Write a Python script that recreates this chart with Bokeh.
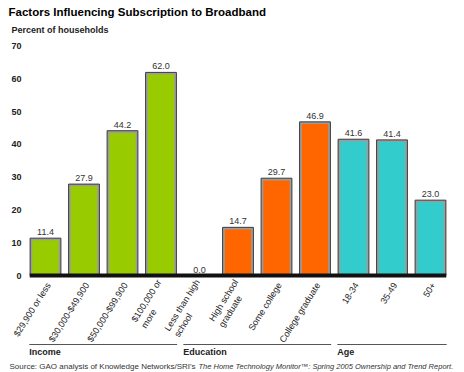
import math
from bokeh.plotting import figure
from bokeh.models import Range1d, FixedTicker, Label, LabelSet, ColumnDataSource
from bokeh.core.properties import value
from bokeh.embed import file_html
from bokeh.resources import INLINE

# ---------------- data ----------------
categories = ["$29,900 or less", "$30,000-$49,900", "$50,000-$99,900", "$100,000 or\nmore",
              "Less than high\nschool", "High school\ngraduate", "Some college", "College graduate",
              "18-34", "35-49", "50+"]
values = [11.4, 27.9, 44.2, 62.0, 0.0, 14.7, 29.7, 46.9, 41.6, 41.4, 23.0]
groups = ["Income", "Education", "Age"]
group_sizes = [4, 4, 3]
group_colors = ["#99cc00", "#ff6600", "#33cccc"]
y_ticks = [0, 10, 20, 30, 40, 50, 60, 70]
title_text = "Factors Influencing Subscription to Broadband"
subtitle_text = "Percent of households"
source_regular = "Source: GAO analysis of Knowledge Networks/SRI's "
source_italic = "The Home Technology Monitor\u2122: Spring 2005 Ownership and Trend Report."

# ---------------- layout ----------------
W, H = 464, 372
PX = 38.5          # pixels per category
S = -45 / PX       # x range start (first bar centred at 45px)
K = 229.3 / 70     # pixels per percent
Y0 = 275           # pixel row of zero

def xd(fx):
    return S + fx / PX

def yd(fy):
    return (Y0 - fy) / K

FONT = value("Liberation Sans")

p = figure(width=W, height=H,
           x_range=Range1d(S, S + W / PX),
           y_range=Range1d(-(H - Y0) / K, Y0 / K),
           output_backend="svg", toolbar_location=None,
           x_axis_location=None,
           min_border_left=0, min_border_right=0, min_border_top=0, min_border_bottom=0)
p.outline_line_color = None
p.grid.visible = False
p.background_fill_color = "white"

ya = p.yaxis[0]
ya.ticker = FixedTicker(ticks=y_ticks)
ya.axis_line_color = None
ya.major_tick_line_color = None
ya.minor_tick_line_color = None
ya.major_tick_out = 0
ya.major_tick_in = 0
ya.major_label_standoff = -21
ya.major_label_text_font = "Liberation Sans"
ya.major_label_text_font_style = "bold"
ya.major_label_text_font_size = "9px"
ya.major_label_text_color = "#222222"

# ---------------- bars ----------------
colors = []
for g, n in enumerate(group_sizes):
    colors += [group_colors[g]] * n
xs = list(range(len(values)))
inset_x = 2.2 / PX
inset_y = 2.2 / K
src = ColumnDataSource(dict(
    x=xs, top=values,
    inner_top=[max(v - inset_y, 0) for v in values],
    color=colors,
    label=[f"{v:.1f}" for v in values],
    cat=categories,
    lab_y=[yd(283)] * len(values),
))

p.vbar(x="x", top="top", bottom=0, width=0.8, source=src,
       fill_color="#9c9c9c", line_color="#3a3a3a", line_width=1)
p.vbar(x="x", top="inner_top", bottom=0, width=0.8 - 2 * inset_x, source=src,
       fill_color="color", line_color=None)

# baseline
p.segment(x0=[xs[0] - 0.41], x1=[xs[-1] + 0.41], y0=[0], y1=[0],
          line_color="#111111", line_width=4)

# value labels
p.text(x="x", y="top", text="label", source=src, text_align="center",
       text_baseline="bottom", y_offset=-3, text_font=FONT,
       text_font_size="9px", text_color="#333333")

# category labels (rotated)
p.add_layout(LabelSet(x="x", y="lab_y", text="cat", source=src,
                      angle=math.radians(58), text_align="right",
                      text_baseline="middle", x_offset=3,
                      text_font=FONT, text_font_size="9px",
                      text_color="#222222", text_line_height=1.15))

# group lines and labels
start = 0
gx0, gx1 = [], []
for n in group_sizes:
    gx0.append(xs[start] - 0.42)
    gx1.append(xs[start + n - 1] + 0.42)
    start += n
gy = yd(344)
p.segment(x0=gx0, x1=gx1, y0=[gy] * len(gx0), y1=[gy] * len(gx0),
          line_color="#555555", line_width=1)
p.text(x=gx0, y=[yd(351)] * len(gx0), text=groups, text_align="left",
       text_baseline="middle", text_font=FONT, text_font_style="bold",
       text_font_size="9px", text_color="#222222")

# titles and source
p.add_layout(Label(x=xd(8), y=yd(11), text=title_text, text_baseline="middle",
                   text_font="Liberation Sans", text_font_style="bold",
                   text_font_size="11.5px", text_color="#000000"))
p.add_layout(Label(x=xd(11), y=yd(29), text=subtitle_text, text_baseline="middle",
                   text_font="Liberation Sans", text_font_style="bold",
                   text_font_size="9px", text_color="#222222"))
p.add_layout(Label(x=xd(9), y=yd(366), text=source_regular, text_baseline="middle",
                   text_font="Liberation Sans", text_font_size="8px",
                   text_color="#333333"))
p.add_layout(Label(x=xd(198), y=yd(366), text=source_italic, text_baseline="middle",
                   text_font="Liberation Sans", text_font_style="italic",
                   text_font_size="7.5px", text_color="#333333"))

open("out.html", "w").write(file_html(p, INLINE))
